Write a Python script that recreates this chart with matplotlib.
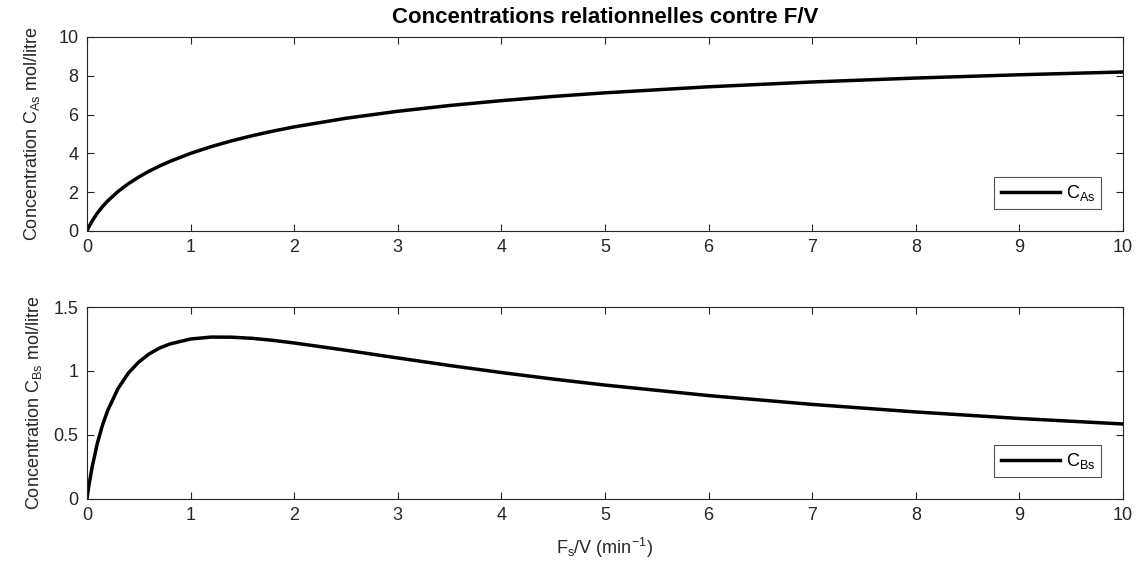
import numpy as np
import matplotlib
matplotlib.use("Agg")
import matplotlib.pyplot as plt

plt.rcParams['font.family'] = ['Liberation Sans', 'DejaVu Sans']
plt.rcParams['mathtext.fontset'] = 'custom'
plt.rcParams['mathtext.rm'] = 'Liberation Sans'
plt.rcParams['mathtext.it'] = 'Liberation Sans'

# F/V values
fv = [0, 0.01, 0.02, 0.05, 0.1, 0.15, 0.2, 0.3, 0.4, 0.5, 0.6, 0.7, 0.8,
      1.0, 1.2, 1.4, 1.6, 1.8, 2.0, 2.5, 3.0, 3.5, 4.0, 4.5, 5.0,
      6.0, 7.0, 8.0, 9.0, 10.0]
# C_As (mol/litre)
c_as = [0, 0.116, 0.225, 0.516, 0.920, 1.257, 1.549, 2.037, 2.439, 2.782,
        3.082, 3.347, 3.586, 4.000, 4.350, 4.653, 4.918, 5.154, 5.365,
        5.811, 6.171, 6.468, 6.719, 6.935, 7.122, 7.433, 7.681, 7.884,
        8.053, 8.197]
# C_Bs (mol/litre)
c_bs = [0, 0.058, 0.111, 0.250, 0.434, 0.577, 0.691, 0.863, 0.984, 1.070,
        1.133, 1.179, 1.211, 1.250, 1.265, 1.264, 1.255, 1.239, 1.219,
        1.162, 1.102, 1.043, 0.988, 0.937, 0.890, 0.808, 0.739, 0.680,
        0.629, 0.586]

grey = '#262626'
fs = 13
fig = plt.figure(figsize=(11.41, 5.63), dpi=100)
ax1 = fig.add_axes([0.0762, 0.5897, 0.908, 0.3446])
ax2 = fig.add_axes([0.0762, 0.1137, 0.908, 0.341])

for ax, y, lab, ylab, ylim, yt in [
        (ax1, c_as, r'$\mathregular{C_{As}}$',
         r'Concentration $\mathregular{C_{As}}$ mol/litre', (0, 10), np.arange(0, 11, 2)),
        (ax2, c_bs, r'$\mathregular{C_{Bs}}$',
         r'Concentration $\mathregular{C_{Bs}}$ mol/litre', (0, 1.5), [0, 0.5, 1, 1.5])]:
    ax.plot(fv, y, color='black', lw=2.5, label=lab)
    ax.set_xlim(0, 10)
    ax.set_ylim(*ylim)
    ax.set_xticks(range(11))
    ax.set_yticks(yt)
    ax.set_yticklabels([f'{v:g}' for v in yt])
    ax.tick_params(direction='in', top=True, right=True, length=5,
                   labelsize=fs, colors=grey, width=0.8, pad=6)
    for s in ax.spines.values():
        s.set_color(grey)
        s.set_linewidth(0.8)
    leg = ax.legend(loc='lower right', fontsize=fs, frameon=True, fancybox=False,
                    handlelength=3.3, handletextpad=0.3, borderaxespad=1.2,
                    borderpad=0.35)
    leg.get_frame().set_edgecolor(grey)
    leg.get_frame().set_linewidth(0.8)

ax1.set_ylabel(r'Concentration $\mathregular{C_{As}}$ mol/litre', fontsize=fs,
               color=grey, labelpad=12)
ax2.set_ylabel(r'Concentration $\mathregular{C_{Bs}}$ mol/litre', fontsize=fs,
               color=grey, labelpad=7)
ax1.set_title('Concentrations relationnelles contre F/V', fontsize=16,
              fontweight='bold', color='black', pad=10)
ax2.set_xlabel(r'$\mathregular{F_s}$/V (min$\mathregular{^{-1}}$)', fontsize=fs,
               color=grey, labelpad=8)

fig.savefig('out.png', dpi=100)
